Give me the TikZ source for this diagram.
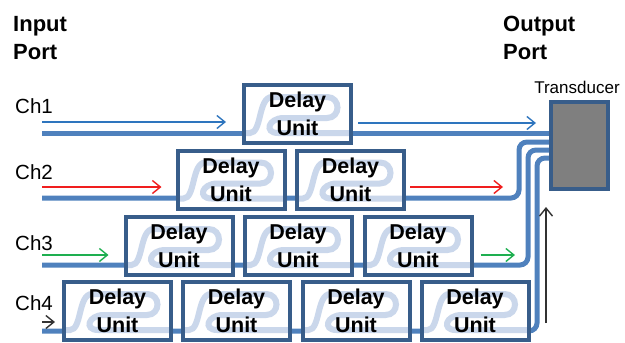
\documentclass[tikz,border=0pt]{standalone}
\usepackage{fontspec}
\setmainfont{Liberation Sans}
\usetikzlibrary{arrows.meta,backgrounds}
\definecolor{guideblue}{RGB}{79,129,189}
\definecolor{frameblue}{RGB}{56,93,138}
\definecolor{coilblue}{RGB}{202,215,235}
\definecolor{sigblue}{RGB}{46,117,190}
\definecolor{sigred}{RGB}{240,30,30}
\definecolor{siggreen}{RGB}{30,175,80}
\definecolor{tgray}{RGB}{127,127,127}

\tikzset{
  coil/.style={coilblue, line width=6pt},
  unit/.style={draw=frameblue, line width=4pt, minimum width=107pt,
    minimum height=58pt, inner sep=0pt, align=center,
    font=\bfseries\fontsize{21.5}{28}\selectfont},
  guide/.style={guideblue, line width=5pt, rounded corners=8pt},
  sig/.style={line width=1.4pt, -{Straight Barb[length=8pt,width=13pt]}},
  chlabel/.style={anchor=base west, inner sep=0pt, font=\fontsize{20.5}{24}\selectfont},
  portlabel/.style={anchor=north west, inner sep=0pt, align=left,
    font=\bfseries\fontsize{22}{28}\selectfont},
}

\begin{document}
\begin{tikzpicture}[x=1pt,y=-1pt]
  \useasboundingbox (0,0) rectangle (625,343);
  % ports and labels
  \node[portlabel] (inport) at (13,16) {Input\\Port};
  \node[portlabel] (outport) at (503,16) {Output\\Port};
  \foreach \r/\y in {1/113,2/179,3/250,4/310}
    \node[chlabel] (ch\r) at (15,\y) {Ch\r};
  \foreach \r/\y in {1/133,2/198,3/265,4/331}
    \coordinate (in\r) at (42,\y);
  \node[draw=frameblue, fill=tgray, line width=4pt, minimum width=57pt,
    minimum height=87pt] (trans) at (579.5,145.5) {};
  \node[anchor=base, inner sep=0pt, font=\fontsize{17}{20}\selectfont] (tlabel)
    at (577,93) {Transducer};
  % waveguides
  \begin{pgfonlayer}{background}
    \draw[guide] (in1) -- (trans.west |- in1);
    \draw[guide] (in2) -| ([xshift=-30pt,yshift=3.5pt]trans.west) -- ([yshift=3.5pt]trans.west);
    \draw[guide] (in3) -| ([xshift=-21pt,yshift=-4.5pt]trans.west) -- ([yshift=-4.5pt]trans.west);
    \draw[guide] (in4) -| ([xshift=-12pt,yshift=-12.5pt]trans.west) -- ([yshift=-12.5pt]trans.west);
  \end{pgfonlayer}
  % delay units, row by row
  \foreach \r/\y/\xs in {1/114/{297.5}, 2/179.5/{231,350.5},
      3/246/{179,298,418}, 4/311/{117.5,236.5,356,475}}{
    \foreach \x [count=\c] in \xs {
      \node[unit] (d\r\c) at (\x,\y) {Delay\\Unit};
      \begin{pgfonlayer}{background}
        \begin{scope}[shift={(d\r\c.north west)}]
          \fill[white] (0,0) rectangle (111,62);
          \draw[coil] (2,50) -- (8,50) .. controls (20,50) and (16,14) .. (30,14) -- (85,14)
            .. controls (99,14) and (99,35) .. (85,35) -- (42,35)
            .. controls (26,35) and (22,50) .. (36,50) -- (109,50);
        \end{scope}
      \end{pgfonlayer}
    }
  }
  % signals
  \draw[sig, sigblue] ([yshift=11pt]in1) -- ([xshift=-16pt,yshift=11pt]d11.west |- in1);
  \draw[sig, sigblue] ([xshift=5pt,yshift=10pt]d11.east |- in1) -- ([xshift=-13pt,yshift=10pt]trans.west |- in1);
  \draw[sig, sigred] ([yshift=11pt]in2) -- ([xshift=-14pt,yshift=11pt]d21.west |- in2);
  \draw[sig, sigred] ([xshift=4pt,yshift=11pt]d22.east |- in2) -- ([xshift=-46pt,yshift=11pt]trans.west |- in2);
  \draw[sig, siggreen] ([yshift=10pt]in3) -- ([xshift=-15pt,yshift=10pt]d31.west |- in3);
  \draw[sig, siggreen] ([xshift=7pt,yshift=10pt]d33.east |- in3) -- ([xshift=-34pt,yshift=10pt]trans.west |- in3);
  \draw[sig, black!80] ([yshift=9pt]in4) -- ([xshift=-7pt,yshift=9pt]d41.west |- in4);
  \draw[sig, black!80] ([xshift=-3pt,yshift=8pt]trans.west |- in4) -- ([xshift=-3pt,yshift=-16pt]trans.south west);
\end{tikzpicture}
\end{document}
